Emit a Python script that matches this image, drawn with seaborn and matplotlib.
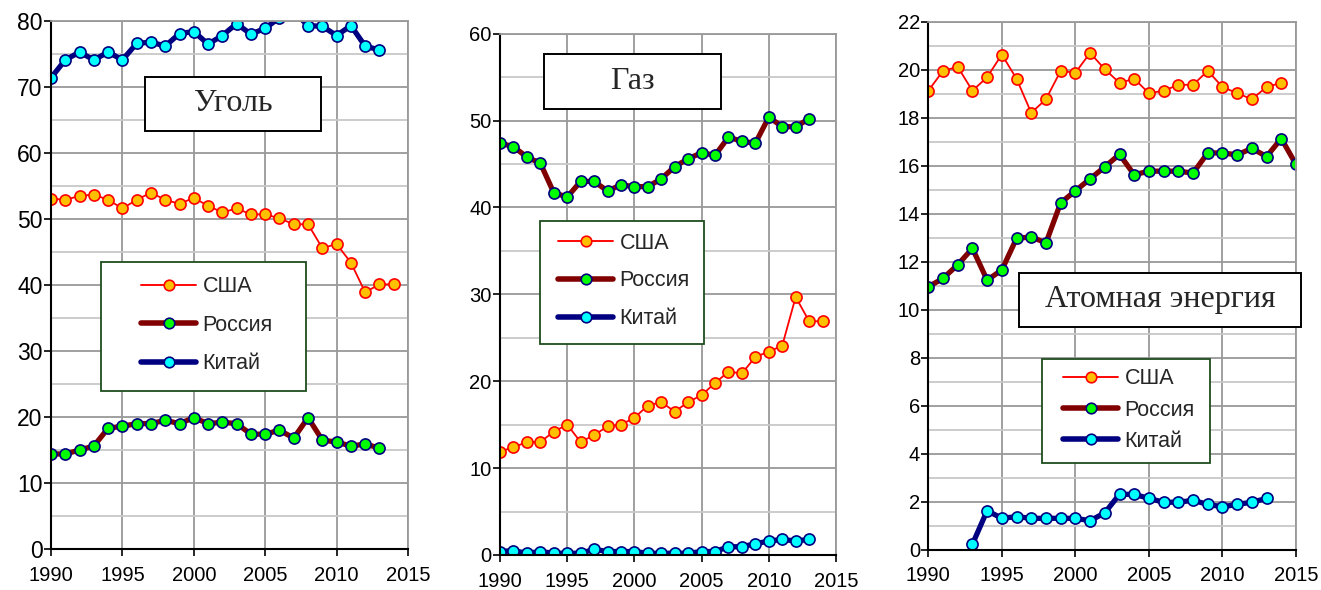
import matplotlib
matplotlib.use("Agg")
import matplotlib.pyplot as plt
import seaborn as sns
import pandas as pd
from matplotlib.patches import Rectangle
from matplotlib.ticker import MultipleLocator
from matplotlib.lines import Line2D

# ---------------- data ----------------
countries = ["США", "Россия", "Китай"]
panel_titles = ["Уголь", "Газ", "Атомная энергия"]

coal_usa_years = list(range(1990, 2015))
coal_usa = [53.1, 52.9, 53.5, 53.7, 52.9, 51.6, 52.9, 54.0, 52.9, 52.3, 53.2, 52.0, 51.0,
            51.6, 50.7, 50.7, 50.1, 49.2, 49.2, 45.6, 46.2, 43.4, 38.9, 40.1, 40.1]
coal_rus_years = list(range(1990, 2014))
coal_rus = [14.4, 14.4, 15.0, 15.6, 18.3, 18.6, 19.0, 19.0, 19.5, 19.0, 19.9, 19.0, 19.2,
            19.0, 17.4, 17.4, 18.0, 16.8, 19.9, 16.5, 16.2, 15.6, 15.9, 15.3]
coal_chn_years = list(range(1990, 2014))
coal_chn = [71.4, 74.1, 75.3, 74.1, 75.3, 74.1, 76.6, 76.8, 76.2, 78.1, 78.4, 76.5, 77.8,
            79.6, 78.0, 78.9, 80.5, 81.4, 79.3, 79.2, 77.8, 79.3, 76.2, 75.6]

gas_usa_years = list(range(1990, 2015))
gas_usa = [11.9, 12.4, 13.0, 13.0, 14.2, 15.0, 13.0, 13.8, 14.8, 15.0, 15.8, 17.2, 17.6,
           16.5, 17.6, 18.4, 19.8, 21.1, 20.9, 22.8, 23.4, 24.1, 29.7, 26.9, 26.9]
gas_rus_years = list(range(1990, 2014))
gas_rus = [47.4, 47.0, 45.8, 45.1, 41.7, 41.2, 43.0, 43.0, 41.9, 42.6, 42.4, 42.4, 43.3,
           44.7, 45.6, 46.3, 46.0, 48.1, 47.6, 47.4, 50.4, 49.3, 49.3, 50.2]
gas_chn_years = list(range(1990, 2014))
gas_chn = [0.4, 0.5, 0.2, 0.4, 0.2, 0.2, 0.2, 0.65, 0.4, 0.4, 0.4, 0.2, 0.2,
           0.2, 0.2, 0.4, 0.4, 0.95, 0.95, 1.3, 1.6, 1.8, 1.6, 1.8]

nuc_usa_years = list(range(1990, 2015))
nuc_usa = [19.12, 19.95, 20.12, 19.12, 19.69, 20.63, 19.62, 18.2, 18.77, 19.95, 19.87, 20.7,
           20.02, 19.45, 19.62, 19.02, 19.12, 19.37, 19.37, 19.95, 19.28, 19.02, 18.77, 19.28, 19.45]
nuc_rus_years = list(range(1990, 2016))
nuc_rus = [10.95, 11.3, 11.87, 12.55, 11.23, 11.65, 12.97, 13.03, 12.78, 14.45, 14.95, 15.45,
           15.95, 16.47, 15.62, 15.77, 15.77, 15.77, 15.69, 16.53, 16.53, 16.45, 16.72, 16.38,
           17.13, 16.05]
nuc_chn_years = list(range(1993, 2014))
nuc_chn = [0.22, 1.62, 1.3, 1.37, 1.3, 1.3, 1.3, 1.3, 1.2, 1.53, 2.3, 2.3, 2.13, 1.97, 1.97,
           2.05, 1.88, 1.78, 1.88, 1.97, 2.13]

x_ticks = [1990, 1995, 2000, 2005, 2010, 2015]
y_limits = [(0, 80), (0, 60), (0, 22)]
y_major = [10, 10, 2]
y_minor = [5, 5, 1]

# ---------------- style ----------------
sns.set_style("white")
plt.rcParams['font.family'] = ['Liberation Sans', 'DejaVu Sans']

W, H = 1321, 590
fig = plt.figure(figsize=(W / 100, H / 100), dpi=100)

styles = {
    "США": dict(color="#FF0000", lw=1.3, mfc="#FFC000", mec="#FF0000", ms=8.0, mew=1.2),
    "Россия": dict(color="#800000", lw=3.8, mfc="#00FF00", mec="#000080", ms=8.0, mew=1.2),
    "Китай": dict(color="#000080", lw=3.8, mfc="#00FFFF", mec="#000080", ms=8.0, mew=1.2),
}


def px_rect(x0, y0, x1, y1):
    return x0 / W, 1 - y1 / H, (x1 - x0) / W, (y1 - y0) / H


axes_px = [(51, 21, 408, 549), (500, 33.7, 836, 555), (928.3, 21.7, 1296, 549.5)]
title_px = [(145, 77, 321, 131), (544, 54, 721, 109), (1019, 273, 1301, 327)]
legend_box_px = [(101, 262, 306, 391), (540, 221, 704, 344), (1042, 359, 1210, 463)]
legend_anchor_px = [(141, 325.3, 0.81), (558, 281, 0.78), (1063, 410, 0.48)]
ytick_sizes = [16.5, 14.5, 14.5]

panels = [
    [(coal_usa_years, coal_usa), (coal_rus_years, coal_rus), (coal_chn_years, coal_chn)],
    [(gas_usa_years, gas_usa), (gas_rus_years, gas_rus), (gas_chn_years, gas_chn)],
    [(nuc_usa_years, nuc_usa), (nuc_rus_years, nuc_rus), (nuc_chn_years, nuc_chn)],
]

for i, series in enumerate(panels):
    ax = fig.add_axes(px_rect(*axes_px[i]))
    handles = []
    for c, (yrs, vals) in zip(countries, series):
        df = pd.DataFrame({"year": yrs, "value": vals})
        st = styles[c]
        sns.lineplot(data=df, x="year", y="value", ax=ax, color=st["color"], lw=st["lw"],
                     marker="o", markersize=st["ms"], markerfacecolor=st["mfc"],
                     markeredgecolor=st["mec"], markeredgewidth=st["mew"], legend=False)
        handles.append(Line2D([], [], color=st["color"], lw=st["lw"] * 1.05, marker="o",
                              markersize=st["ms"] * 0.95, markerfacecolor=st["mfc"],
                              markeredgecolor=st["mec"], markeredgewidth=st["mew"]))
    ax.set_xlim(1990, 2015)
    ax.set_ylim(*y_limits[i])
    ax.set_xticks(x_ticks)
    ax.yaxis.set_major_locator(MultipleLocator(y_major[i]))
    ax.yaxis.set_minor_locator(MultipleLocator(y_minor[i]))
    ax.set_xlabel("")
    ax.set_ylabel("")
    ax.grid(which="major", axis="both", color="#999999", lw=1.3)
    ax.grid(which="minor", axis="y", color="#C8C8C8", lw=1.3)
    ax.set_axisbelow(True)
    for s in ["top", "right"]:
        ax.spines[s].set_color("#999999")
        ax.spines[s].set_linewidth(1.3)
    for s in ["left", "bottom"]:
        ax.spines[s].set_color("black")
        ax.spines[s].set_linewidth(1.5)
    ax.tick_params(axis="both", which="major", direction="out", length=5, width=1.2,
                   colors="black", left=True, bottom=True)
    ax.tick_params(axis="x", which="major", pad=7, labelsize=14.5)
    ax.tick_params(axis="y", which="major", pad=1, labelsize=ytick_sizes[i])
    ax.tick_params(axis="y", which="minor", length=0)

    # legend frame
    lx0, ly0, lx1, ly1 = legend_box_px[i]
    r = px_rect(lx0, ly0, lx1, ly1)
    fig.add_artist(Rectangle((r[0], r[1]), r[2], r[3], transform=fig.transFigure,
                             facecolor="white", edgecolor="#1E4D1E", lw=1.3, zorder=5))
    ax_, ay_, spacing = legend_anchor_px[i]
    leg = fig.legend(handles, countries, loc="center left",
                     bbox_to_anchor=(ax_ / W, 1 - ay_ / H), bbox_transform=fig.transFigure,
                     frameon=False, fontsize=15.5, handlelength=2.56, handletextpad=0.3,
                     labelspacing=spacing, borderpad=0, borderaxespad=0, numpoints=1)
    leg.set_zorder(6)

    # title box
    tx0, ty0, tx1, ty1 = title_px[i]
    r = px_rect(tx0, ty0, tx1, ty1)
    fig.add_artist(Rectangle((r[0], r[1]), r[2], r[3], transform=fig.transFigure,
                             facecolor="white", edgecolor="black", lw=1.4, zorder=5))
    fig.text(r[0] + r[2] / 2, r[1] + r[3] / 2, panel_titles[i], ha="center", va="center",
             family=["Liberation Serif", "DejaVu Serif"], fontsize=23, zorder=6)

fig.savefig("out.png", dpi=100)
